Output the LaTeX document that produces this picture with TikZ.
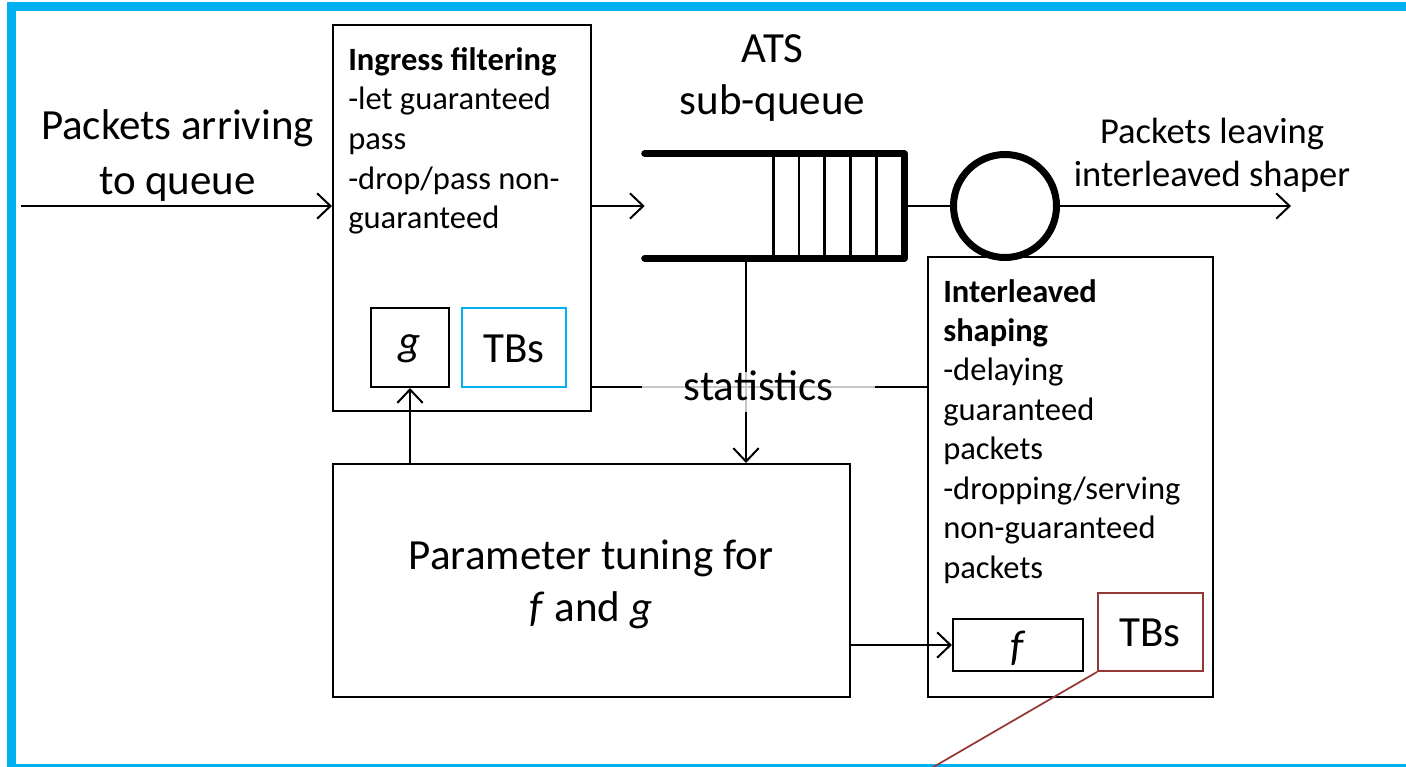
\documentclass[tikz,border=0pt]{standalone}
\usepackage{fontspec}
\setmainfont{Carlito}
\usetikzlibrary{arrows.meta,fit}
\definecolor{frameblue}{RGB}{0,176,240}
\definecolor{tbred}{RGB}{149,55,53}
\begin{document}
\begin{tikzpicture}[x=0.75pt,y=-0.75pt,
  box/.style={draw, line width=1.6pt, inner sep=0pt},
  wire/.style={line width=1.5pt},
  conn/.style={wire, -{Straight Barb[length=10pt,width=19pt]}},
  label/.style={inner sep=0pt},
  bigtext/.style={label, font=\fontsize{32.25pt}{40.5pt}\selectfont},
  bodytext/.style={label, anchor=base west, font=\fontsize{24.4pt}{29.8pt}\selectfont},
]
\path[use as bounding box] (0,0) rectangle (1406,767);
\clip (0,0) rectangle (1406,767);

% outer frame, open to the right
\draw[frameblue, line width=6.75pt, line join=miter] (1500,6.5) -- (11,6.5) -- (11,768) -- (1500,768);

% ingress filter block
\node[box, fit={(333,25)(591,411)}] (ingress) {};
\node[box, fit={(371,308)(449,387)}] (gfun) {};
\node[box, draw=frameblue, line width=1.4pt, fit={(462,308)(566,387)}] (tbsin) {};
\node[bodytext] (ingtxt) at (348,70)
  {\begin{tabular}[t]{@{}l@{}}\textbf{Ingress filtering}\\-let guaranteed\\pass\\-drop/pass non-\\guaranteed\end{tabular}};
\node[label, anchor=base, font=\fontsize{32.25pt}{38pt}\selectfont] (glbl) at (gfun.center |- 0,355) {\textit{g}};
\node[label, anchor=base, font=\fontsize{32.25pt}{38pt}\selectfont] (tbsinlbl) at (tbsin.center |- 0,362) {TBs};

% ATS queue
\node[label, fit={(645,154)(904,258)}] (queue) {};
\draw[line width=5.25pt, line cap=round, line join=round]
  (queue.north west) -- (queue.north east) -- (queue.south east) -- (queue.south west);
\foreach \sx in {773.3,799,824.7,850.7,876.7}
  \draw[line width=1.9pt] (\sx,154) -- (\sx,258);
\node[bigtext, anchor=base, font=\fontsize{32.25pt}{39pt}\selectfont] (atslbl) at (772.5,63)
  {\begin{tabular}[t]{@{}c@{}}ATS\\sub-queue\end{tabular}};

% server
\node[circle, draw, line width=5.25pt, minimum size=77.25pt, inner sep=0pt] (server) at (1005,206) {};

% interleaved shaping block
\node[box, fit={(928,257)(1213,697)}] (shaping) {};
\node[box, fit={(953,619)(1083,671)}] (ffun) {};
\node[box, draw=tbred, line width=1.4pt, fit={(1098,593)(1203,671)}] (tbsout) {};
\node[bodytext, font=\fontsize{24.4pt}{29.6pt}\selectfont] (shtxt) at (943,302)
  {\begin{tabular}[t]{@{}l@{}}\textbf{Interleaved}\\\textbf{shaping}\\-delaying\\guaranteed\\packets\\-dropping/serving\\non-guaranteed\\packets\end{tabular}};
\node[label, anchor=base, font=\fontsize{32.25pt}{38pt}\selectfont] (flbl) at (1018,660) {\textit{f}};
\node[label, anchor=base, font=\fontsize{32.25pt}{38pt}\selectfont] (tbsoutlbl) at (1150,646) {TBs};

% parameter tuning block
\node[box, fit={(333,464)(850,697)}] (param) {};
\node[bigtext, anchor=base, font=\fontsize{32.25pt}{39pt}\selectfont] (paramlbl) at (591,569)
  {\begin{tabular}[t]{@{}c@{}}Parameter tuning for\\\textit{f} and \textit{g}\end{tabular}};

% input and output labels
\node[bigtext, anchor=base, font=\fontsize{32.25pt}{41.5pt}\selectfont] (inlbl) at (177.5,139)
  {\begin{tabular}[t]{@{}c@{}}Packets arriving\\to queue\end{tabular}};
\node[label, anchor=base, font=\fontsize{27.4pt}{32.5pt}\selectfont] (outlbl) at (1212,143.3)
  {\begin{tabular}[t]{@{}c@{}}Packets leaving\\interleaved shaper\end{tabular}};

% connectors
\coordinate (src) at (21,206);
\coordinate (dst) at (1291,206);
\coordinate (tap) at (746,258);
\coordinate (statrow) at (758,387);
\draw[conn] (src) -- (src -| ingress.west);
\draw[conn] (ingress.east |- queue.west) -- (queue.west);
\draw[wire] (queue.east) -- (server.west);
\draw[conn] (server.east) -- (dst);
\draw[wire] (statrow -| ingress.east) -- (statrow -| shaping.west);
\draw[conn] (tap) -- (tap |- param.north);
\draw[conn] (param.north -| gfun.south) -- (gfun.south);
\draw[conn] (param.east |- ffun.west) -- (ffun.west);

% statistics label over the crossing lines
\node[label, fill=white, fill opacity=0.78, fit={(642,372)(875,412)}] (haze) {};
\node[bigtext, anchor=base] (stat) at (758.5,400) {statistics};

% pointer from the shaper token buckets
\coordinate (tail) at (911,780);
\draw[tbred, line width=1.3pt] (tbsout.south west) -- (tail);
\end{tikzpicture}
\end{document}
